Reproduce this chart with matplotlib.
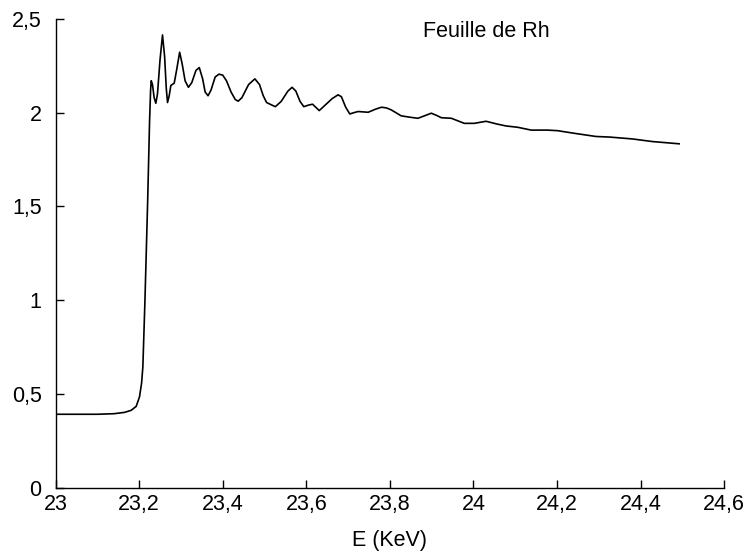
import matplotlib.pyplot as plt
import numpy as np

plt.rcParams['font.family'] = ['Liberation Sans', 'DejaVu Sans']

# absorption spectrum (energy in keV, absorbance)
energy = [23.003, 23.05, 23.10, 23.14, 23.165, 23.181, 23.193, 23.201, 23.206,
          23.209, 23.214, 23.2205, 23.225, 23.2275, 23.229, 23.232, 23.236,
          23.240, 23.244, 23.250, 23.256, 23.261, 23.265, 23.268, 23.272,
          23.276, 23.284, 23.290, 23.297, 23.303, 23.310, 23.318, 23.326,
          23.336, 23.344, 23.352, 23.358, 23.365, 23.372, 23.382, 23.391,
          23.400, 23.409, 23.420, 23.430, 23.437, 23.446, 23.462, 23.477,
          23.488, 23.497, 23.505, 23.517, 23.526, 23.540, 23.556, 23.566,
          23.575, 23.585, 23.594, 23.605, 23.615, 23.622, 23.631, 23.645,
          23.662, 23.676, 23.684, 23.694, 23.704, 23.714, 23.724, 23.748,
          23.765, 23.780, 23.792, 23.803, 23.827, 23.850, 23.867, 23.885,
          23.899, 23.912, 23.923, 23.947, 23.978, 24.002, 24.030, 24.055,
          24.078, 24.106, 24.138, 24.177, 24.201, 24.241, 24.293, 24.325,
          24.380, 24.428, 24.492]
absorb = [0.393, 0.393, 0.393, 0.396, 0.403, 0.414, 0.435, 0.486, 0.560,
          0.646, 1.000, 1.530, 1.950, 2.120, 2.170, 2.150, 2.080,
          2.050, 2.100, 2.280, 2.414, 2.300, 2.130, 2.054, 2.090,
          2.145, 2.157, 2.230, 2.322, 2.260, 2.170, 2.135, 2.160,
          2.225, 2.240, 2.180, 2.110, 2.090, 2.120, 2.190, 2.205,
          2.200, 2.170, 2.110, 2.070, 2.061, 2.080, 2.150, 2.180,
          2.150, 2.090, 2.054, 2.041, 2.032, 2.060, 2.115, 2.135,
          2.115, 2.060, 2.032, 2.040, 2.045, 2.030, 2.011, 2.040,
          2.075, 2.095, 2.085, 2.030, 1.993, 2.000, 2.006, 2.002,
          2.018, 2.029, 2.025, 2.015, 1.983, 1.975, 1.970, 1.985,
          1.997, 1.985, 1.973, 1.970, 1.943, 1.943, 1.954, 1.940,
          1.929, 1.922, 1.907, 1.907, 1.904, 1.890, 1.873, 1.870,
          1.860, 1.846, 1.834]

xticks = [23, 23.2, 23.4, 23.6, 23.8, 24, 24.2, 24.4, 24.6]
xtick_labels = ['23', '23,2', '23,4', '23,6', '23,8', '24', '24,2', '24,4', '24,6']
yticks = [0, 0.5, 1, 1.5, 2, 2.5]
ytick_labels = ['0', '0,5', '1', '1,5', '2', '2,5']

fig = plt.figure(figsize=(7.47, 5.58), dpi=100)
ax = fig.add_axes([0.0743, 0.1254, 0.8953, 0.8409])

ax.plot(energy, absorb, color='black', linewidth=1.2)

ax.set_xlim(23, 24.6)
ax.set_ylim(0, 2.5)
ax.set_xticks(xticks)
ax.set_xticklabels(xtick_labels)
ax.set_yticks(yticks)
ax.set_yticklabels(ytick_labels)

ax.spines['top'].set_visible(False)
ax.spines['right'].set_visible(False)
for s in ['left', 'bottom']:
    ax.spines[s].set_linewidth(1.0)
ax.tick_params(direction='in', length=6, width=1.0, labelsize=15.5)
ax.tick_params(axis='x', pad=4)
ax.tick_params(axis='y', pad=10)

ax.set_xlabel('E (KeV)', fontsize=15.5, labelpad=11)
ax.text(24.03, 2.43, 'Feuille de Rh', fontsize=15.5, ha='center', va='center')

fig.savefig('out.png', dpi=100)
